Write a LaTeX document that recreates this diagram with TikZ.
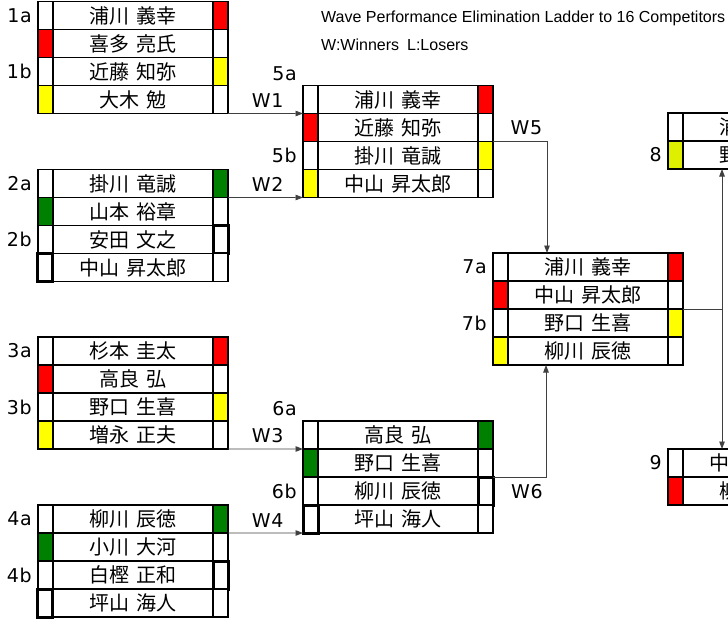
\documentclass[tikz,border=0pt]{standalone}
\usepackage{fontspec}
\setmainfont{Liberation Sans}
\newfontfamily\namefont{Noto Sans CJK JP}[WordSpace=1.7]
\newfontfamily\tagfont{DejaVu Sans}[LetterSpace=4]
\usetikzlibrary{arrows.meta,positioning}

\definecolor{flagred}{RGB}{255,0,0}
\definecolor{flagyellow}{RGB}{255,255,0}
\definecolor{flaglime}{RGB}{222,240,0}
\definecolor{flaggreen}{RGB}{0,128,0}

% one line of a heat: flag, name, flag
\newcommand{\entrant}[5]{%
  \node[namecell,#2] (#1) {#3};
  \node[flagcell,#4,left=0pt of #1] (#1l) {};
  \node[flagcell,#5,right=0pt of #1] (#1r) {};%
}

\begin{document}
\begin{tikzpicture}[
    x = 1bp, y = -1bp, % pixel like coordinates
    > = {Triangle[length=7.5bp,width=5.5bp]}, % arrow head style
    node distance = 0pt,
    ]

    \tikzset{
    namecell/.style = {draw = black, line width = 1.4bp, minimum width = 160bp,
      minimum height = 28bp, inner sep = 0pt, outer sep = 0pt,
      font = \namefont\fontsize{20bp}{20bp}\selectfont},
    flagcell/.style = {draw = black, line width = 1.4bp, fill = white,
      minimum width = 15bp, minimum height = 28bp, inner sep = 0pt, outer sep = 0pt},
    redcell/.style = {fill = flagred},
    yellowcell/.style = {fill = flagyellow},
    limecell/.style = {fill = flaglime},
    greencell/.style = {fill = flaggreen},
    opencell/.style = {line width = 3bp},
    tag/.style = {inner sep = 2bp, font = \tagfont\fontsize{19bp}{19bp}\selectfont},
    wire/.style = {draw = black!75, line width = 0.9bp}
    }

    \useasboundingbox (0,0) rectangle (728,621);
    \clip (0,0) rectangle (728,621);

    \node[anchor = base west, inner sep = 0pt, font = \fontsize{16bp}{18bp}\selectfont]
      (title) at (321,22.7) {Wave Performance Elimination Ladder to 16 Competitors};
    \node[anchor = base west, inner sep = 0pt, font = \fontsize{16bp}{18bp}\selectfont]
      (legend) at (321,50.7) {W:Winners\hspace{8bp}L:Losers};

    % heat 1
    \entrant{b1r1}{at={(133,15.5)}}{浦川 義幸}{}{redcell}
    \entrant{b1r2}{below=of b1r1}{喜多 亮氏}{redcell}{}
    \entrant{b1r3}{below=of b1r2}{近藤 知弥}{}{yellowcell}
    \entrant{b1r4}{below=of b1r3}{大木 勉}{yellowcell}{}
    \node[tag] (l1a) [left=4bp of b1r1l] {1a};
    \node[tag] (l1b) [left=4bp of b1r3l] {1b};

    % heat 2
    \entrant{b2r1}{at={(133,183.5)}}{掛川 竜誠}{}{greencell}
    \entrant{b2r2}{below=of b2r1}{山本 裕章}{greencell}{}
    \entrant{b2r3}{below=of b2r2}{安田 文之}{}{opencell}
    \entrant{b2r4}{below=of b2r3}{中山 昇太郎}{opencell}{}
    \node[tag] (l2a) [left=4bp of b2r1l] {2a};
    \node[tag] (l2b) [left=4bp of b2r3l] {2b};

    % heat 3
    \entrant{b3r1}{at={(133,351)}}{杉本 圭太}{}{redcell}
    \entrant{b3r2}{below=of b3r1}{高良 弘}{redcell}{}
    \entrant{b3r3}{below=of b3r2}{野口 生喜}{}{yellowcell}
    \entrant{b3r4}{below=of b3r3}{増永 正夫}{yellowcell}{}
    \node[tag] (l3a) [left=4bp of b3r1l] {3a};
    \node[tag] (l3b) [left=4bp of b3r3l] {3b};

    % heat 4
    \entrant{b4r1}{at={(133,519)}}{柳川 辰徳}{}{greencell}
    \entrant{b4r2}{below=of b4r1}{小川 大河}{greencell}{}
    \entrant{b4r3}{below=of b4r2}{白樫 正和}{}{opencell}
    \entrant{b4r4}{below=of b4r3}{坪山 海人}{opencell}{}
    \node[tag] (l4a) [left=4bp of b4r1l] {4a};
    \node[tag] (l4b) [left=4bp of b4r3l] {4b};

    % heat 5
    \entrant{b5r1}{at={(398,99.5)}}{浦川 義幸}{}{redcell}
    \entrant{b5r2}{below=of b5r1}{近藤 知弥}{redcell}{}
    \entrant{b5r3}{below=of b5r2}{掛川 竜誠}{}{yellowcell}
    \entrant{b5r4}{below=of b5r3}{中山 昇太郎}{yellowcell}{}
    \node[tag] (l5a) [left=4bp of b5r1l, yshift=26bp] {5a};
    \node[tag] (l5b) [left=4bp of b5r3l] {5b};

    % heat 6
    \entrant{b6r1}{at={(398,435)}}{高良 弘}{}{greencell}
    \entrant{b6r2}{below=of b6r1}{野口 生喜}{greencell}{}
    \entrant{b6r3}{below=of b6r2}{柳川 辰徳}{}{opencell}
    \entrant{b6r4}{below=of b6r3}{坪山 海人}{opencell}{}
    \node[tag] (l6a) [left=4bp of b6r1l, yshift=26bp] {6a};
    \node[tag] (l6b) [left=4bp of b6r3l] {6b};

    % heat 7
    \entrant{b7r1}{at={(588,267)}}{浦川 義幸}{}{redcell}
    \entrant{b7r2}{below=of b7r1}{中山 昇太郎}{redcell}{}
    \entrant{b7r3}{below=of b7r2}{野口 生喜}{}{yellowcell}
    \entrant{b7r4}{below=of b7r3}{柳川 辰徳}{yellowcell}{}
    \node[tag] (l7a) [left=4bp of b7r1l] {7a};
    \node[tag] (l7b) [left=4bp of b7r3l] {7b};

    % heats 8 and 9
    \entrant{b8r1}{at={(763,127)}}{浦川 義幸}{}{}
    \entrant{b8r2}{below=of b8r1}{野口 生喜}{limecell}{}
    \node[tag] (l8) [left=4bp of b8r2l] {8};
    \entrant{b9r1}{at={(763,463)}}{中山 昇太郎}{}{}
    \entrant{b9r2}{below=of b9r1}{柳川 辰徳}{redcell}{}
    \node[tag] (l9) [left=4bp of b9r1l] {9};

    % winners
    \path[wire,->] (b1r4r.south east) -- node[tag,pos=0.53,above=3.5bp]{W1} (b5r1l.south west);
    \path[wire,->] (b2r1r.south east) -- node[tag,pos=0.53,above=3.5bp]{W2} (b5r4l.south west);
    \path[wire,->] (b3r4r.south east) -- node[tag,pos=0.53,above=3.5bp]{W3} (b6r1l.south west);
    \path[wire,->] (b4r1r.south east) -- node[tag,pos=0.53,above=3.5bp]{W4} (b6r4l.south west);

    \coordinate[right=39bp of b7r1.north west] (w5in);
    \coordinate[right=38bp of b7r4.south west] (w6in);
    \path[wire,->] (b5r2r.south east) -| node[tag,pos=0.31,above=4bp]{W5} (w5in);
    \path[wire,->] (b6r2r.south east) -| node[tag,pos=0.32,below=5bp]{W6} (w6in);

    \coordinate[right=39bp of b7r2r.south east] (split);
    \path[wire] (b7r2r.south east) -- (split);
    \path[wire,->] (split) -- (split |- b8r2.south);
    \path[wire,->] (split) -- (split |- b9r1.north);
\end{tikzpicture}
\end{document}
